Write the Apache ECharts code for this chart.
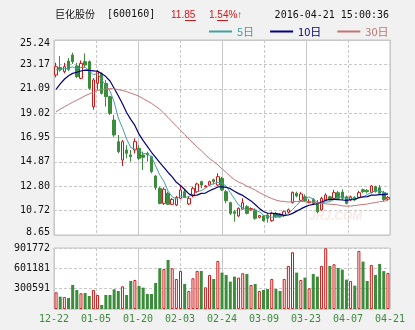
<!DOCTYPE html>
<html>
<head>
<meta charset="utf-8">
<script src="https://cdn.jsdelivr.net/npm/echarts@6/dist/echarts.min.js"></script>
<style>
html,body{margin:0;padding:0;background:#f1f1f1;}
#chart{width:415px;height:330px;}
</style>
</head>
<body>
<div id="chart"></div>
<script>
// Trading days shown on the daily K-line
const dates = [
  '12-22','12-23','12-24','12-25','12-28','12-29','12-30','12-31',
  '01-04','01-05','01-06','01-07','01-08','01-11','01-12','01-13','01-14','01-15',
  '01-18','01-19','01-20','01-21','01-22','01-25','01-26','01-27','01-28','01-29',
  '02-01','02-02','02-03','02-04','02-05','02-15','02-16','02-17','02-18','02-19',
  '02-22','02-23','02-24','02-25','02-26','02-29',
  '03-01','03-02','03-03','03-04','03-07','03-08','03-09','03-10','03-11',
  '03-14','03-15','03-16','03-17','03-18','03-21','03-22','03-23','03-24','03-25',
  '03-28','03-29','03-30','03-31','04-01','04-05','04-06','04-07','04-08',
  '04-11','04-12','04-13','04-14','04-15','04-18','04-19','04-20','04-21'
];

const openPx = [22.26,22.89,22.55,23.45,23.96,23.03,21.98,23.40,23.40,19.57,
  21.55,22.40,21.55,20.42,18.43,16.59,15.03,15.88,15.46,15.88,
  16.02,15.46,15.60,15.31,13.67,12.62,11.34,12.20,11.26,11.20,
  11.77,12.34,11.29,11.97,12.34,13.19,12.76,12.90,13.35,12.90,
  13.47,12.34,11.40,10.63,10.27,10.85,11.06,10.80,10.78,10.15,
  10.27,10.35,9.87,10.49,10.43,10.29,10.60,11.40,12.20,11.60,
  11.90,11.40,11.68,11.34,10.78,11.63,11.90,11.77,12.25,12.30,
  11.90,11.63,11.85,11.85,12.50,12.45,12.25,12.76,12.68,12.25,
  11.70];
const closePx = [22.97,22.69,22.97,22.74,23.40,22.12,23.25,23.11,21.13,21.84,
  22.55,20.70,20.42,19.00,17.16,15.74,16.59,15.60,15.31,16.59,
  15.17,15.26,15.46,14.04,12.70,11.34,12.54,11.26,11.68,11.85,
  12.48,11.85,11.77,12.62,12.99,12.90,12.82,13.19,13.19,13.61,
  12.48,11.57,10.49,10.49,10.92,11.40,10.49,10.90,10.07,10.30,
  9.87,10.07,10.49,10.20,10.20,10.63,10.80,12.28,11.97,12.14,
  11.57,11.49,11.34,10.63,11.77,12.05,11.63,12.25,11.77,11.77,
  11.34,11.90,11.63,12.25,12.34,12.34,12.82,12.34,12.20,11.67,
  11.85];
const lowPx = [22.06,22.55,22.40,22.60,23.20,22.00,21.90,22.90,21.00,19.30,
  21.00,20.60,19.57,18.86,17.00,15.60,14.52,15.17,14.89,15.60,
  15.03,14.18,14.89,13.90,12.48,11.26,11.20,11.20,11.20,11.10,
  11.68,11.80,11.20,11.85,12.20,12.62,12.70,12.85,12.95,12.82,
  12.40,11.34,10.35,9.78,10.20,10.78,10.40,10.70,9.95,10.07,
  9.78,9.70,9.78,10.10,10.12,10.20,10.50,11.34,11.85,11.50,
  11.50,11.35,11.20,10.49,10.70,11.55,11.55,11.70,11.70,11.63,
  11.25,11.55,11.55,11.80,12.20,12.20,12.20,12.25,12.05,11.50,
  11.60];
const highPx = [23.31,23.88,23.30,23.70,24.16,23.30,23.50,24.10,23.50,22.00,
  22.70,22.46,21.83,20.50,18.86,17.16,16.73,16.30,15.88,16.87,
  16.30,15.74,15.74,15.40,13.75,12.76,12.70,12.34,11.80,11.97,
  12.90,12.48,11.97,12.76,13.10,13.27,12.90,13.27,13.45,13.90,
  13.60,12.48,11.49,10.78,11.00,11.77,11.20,11.00,10.92,10.35,
  10.35,10.49,10.63,10.60,10.50,10.75,10.90,12.34,12.34,12.30,
  12.10,11.70,11.80,11.63,11.90,12.20,12.00,12.50,12.40,12.53,
  12.00,12.00,11.95,12.40,12.60,12.55,12.90,12.85,12.90,12.40,
  11.97];

const volume = [246800,182600,177700,162900,355400,281400,232000,236900,192500,281400,
  207300,59200,207300,207300,291200,266500,335600,207300,414600,429400,
  340600,315900,222100,222100,385000,602200,592300,725600,602200,444200,
  562700,370200,266500,454100,562700,562700,320800,503500,444200,710800,
  538000,503500,404800,478800,464000,528200,518300,355400,370200,266500,
  281400,296200,444200,296200,266500,444200,636700,839100,538000,429400,
  464000,306000,518300,478800,636700,898400,636700,661400,607100,582400,
  434400,414600,345500,858900,700900,414600,651600,503500,666400,560000,
  533100];

const ma5 = [22.70,22.75,22.80,22.85,22.95,22.78,22.90,22.92,22.60,22.29,
  22.38,21.87,21.33,20.90,19.97,18.60,17.78,16.82,16.08,15.97,
  15.85,15.59,15.56,15.30,14.53,13.76,13.22,12.38,11.90,11.73,
  11.96,11.82,11.93,12.11,12.34,12.43,12.62,12.90,13.02,13.14,
  13.06,12.81,12.27,11.73,11.19,10.97,10.76,10.84,10.76,10.63,
  10.33,10.24,10.16,10.19,10.17,10.32,10.46,10.82,11.18,11.56,
  11.75,11.89,11.70,11.43,11.36,11.46,11.48,11.67,11.89,11.89,
  11.75,11.81,11.68,11.78,11.89,12.09,12.28,12.42,12.41,12.27,
  12.18];
const ma10 = [21.04,21.50,21.90,22.20,22.40,22.50,22.60,22.68,22.65,22.62,
  22.58,22.38,22.13,21.75,21.13,20.49,19.82,19.07,18.49,17.97,
  17.23,16.68,16.19,15.69,15.25,14.81,14.40,13.97,13.60,13.13,
  12.86,12.52,12.15,12.01,12.04,12.19,12.22,12.42,12.57,12.74,
  12.74,12.71,12.59,12.37,12.17,12.02,11.78,11.55,11.24,10.91,
  10.65,10.50,10.50,10.47,10.40,10.32,10.35,10.49,10.68,10.87,
  11.04,11.18,11.26,11.31,11.46,11.60,11.69,11.68,11.66,11.63,
  11.60,11.65,11.67,11.84,11.89,11.92,12.04,12.05,12.09,12.08,
  12.13];
const ma30 = [19.14,19.35,19.55,19.75,19.95,20.12,20.30,20.50,20.65,20.80,
  20.95,21.02,21.07,21.10,21.08,21.02,20.95,20.85,20.72,20.60,
  20.45,20.25,20.05,19.85,19.60,19.35,19.00,18.65,18.28,17.91,
  17.56,17.20,16.82,16.48,16.14,15.83,15.48,15.15,14.89,14.61,
  14.28,13.97,13.64,13.36,13.15,13.01,12.80,12.65,12.47,12.26,
  12.08,11.91,11.75,11.62,11.53,11.51,11.45,11.49,11.50,11.51,
  11.48,11.46,11.45,11.38,11.34,11.31,11.27,11.24,11.20,11.13,
  11.10,11.11,11.15,11.20,11.25,11.28,11.36,11.41,11.48,11.53,
  11.59];

// Axis tick labels (evenly spaced divisions of each panel)
const priceTicks = ['8.65','10.72','12.80','14.87','16.95','19.02','21.09','23.17','25.24'];
const volumeTicks = ['','300591','601181','901772'];
const dateTicks = ['12-22','01-05','01-20','02-03','02-24','03-09','03-23','04-07','04-21'];
const priceMin = 8.65, priceMax = 25.24, volumeMax = 901772;

const RED = '#d01818';
const GREEN = '#3b8c3b';
const C5 = '#40a0a0';
const C10 = '#000080';
const C30 = '#c47474';
const GRIDC = '#c8c8c8';
const MONO = 'DejaVu Sans Mono';

const kData = dates.map((d, i) => [openPx[i], closePx[i], lowPx[i], highPx[i]]);
const volData = volume.map((v, i) => {
  const up = closePx[i] >= openPx[i];
  return {
    value: v,
    itemStyle: up
      ? { color: '#ffffff', borderColor: RED, borderWidth: 1 }
      : { color: GREEN, borderColor: GREEN, borderWidth: 0 }
  };
});

const dashed = { show: true, lineStyle: { color: GRIDC, type: [3, 2], width: 1 } };
const solid = { show: true, lineStyle: { color: GRIDC, type: 'solid', width: 1 } };
const bare = { axisLine: { show: false }, axisTick: { show: false } };

function guide(gridIndex, max, interval, split, extra) {
  return Object.assign({
    gridIndex, type: 'value', min: 0, max, interval,
    axisLabel: { show: false }, splitLine: split
  }, bare, extra || {});
}

const plain = { fontWeight: 'normal', padding: 0 };

const chart = echarts.init(document.getElementById('chart'), null, { renderer: 'canvas' });
chart.setOption({
  animation: false,
  backgroundColor: '#f1f1f1',
  title: [
    { text: '{a|巨化股份}{b|  [600160]}', left: 55, top: 9, padding: 0,
      textStyle: {
        fontSize: 10, fontWeight: 'normal', color: '#111',
        rich: {
          a: { fontSize: 10, color: '#111', fontFamily: 'Noto Sans CJK SC' },
          b: { fontSize: 10, color: '#111', fontFamily: MONO }
        }
      } },
    { text: '11.85', left: 171, top: 10, padding: 0,
      textStyle: { fontSize: 10, fontWeight: 'normal', color: RED, fontFamily: 'Liberation Sans' } },
    { text: '1.54%↑', left: 209, top: 10, padding: 0,
      textStyle: { fontSize: 10, fontWeight: 'normal', color: RED, fontFamily: 'Liberation Sans' } },
    { text: '2016-04-21 15:00:36', right: 26, top: 10, padding: 0,
      textStyle: { fontSize: 10, fontWeight: 'normal', color: '#111', fontFamily: MONO } }
  ],
  legend: {
    left: 209, top: 26, padding: 0, icon: 'rect', itemWidth: 23, itemHeight: 2, itemGap: 16,
    textStyle: { fontSize: 11, fontFamily: 'Noto Sans CJK SC' },
    data: [
      { name: '5日', textStyle: { color: C5 } },
      { name: '10日', textStyle: { color: C10 } },
      { name: '30日', textStyle: { color: C30 } }
    ]
  },
  grid: [
    { left: 54, top: 40, width: 336, height: 195, show: true, backgroundColor: '#fff', borderColor: '#c4c4c4', borderWidth: 1 },
    { left: 54, top: 248, width: 336, height: 61, show: true, backgroundColor: '#fff', borderColor: '#c4c4c4', borderWidth: 1 }
  ],
  xAxis: [
    { gridIndex: 0, type: 'category', data: dates, boundaryGap: true, show: false },
    guide(0, 8, 1, dashed, { position: 'bottom' }),
    guide(0, 8, 2, solid, { position: 'bottom' }),
    { gridIndex: 1, type: 'category', data: dates, boundaryGap: true, show: false },
    guide(1, 8, 1, dashed, {
      position: 'bottom',
      axisLabel: {
        show: true, margin: 5, showMinLabel: true, showMaxLabel: true,
        color: GREEN, fontSize: 10, fontFamily: MONO,
        formatter: v => dateTicks[Math.round(v)]
      }
    }),
    guide(1, 8, 2, solid, { position: 'bottom' })
  ],
  yAxis: [
    { gridIndex: 0, type: 'value', min: priceMin, max: priceMax, show: false },
    guide(0, 8, 1, dashed, {
      position: 'left',
      axisLabel: {
        show: true, margin: 4, showMinLabel: true, showMaxLabel: true,
        color: '#111', fontSize: 10, fontFamily: MONO,
        formatter: v => {
          const k = Math.round(v);
          if (k === 8) return '{t|' + priceTicks[k] + '}';
          if (k === 0) return '{b|' + priceTicks[k] + '}';
          return priceTicks[k];
        },
        rich: {
          t: { padding: [6, 0, 0, 0], color: '#111', fontSize: 10, fontFamily: MONO },
          b: { padding: [0, 0, 6, 0], color: '#111', fontSize: 10, fontFamily: MONO }
        }
      }
    }),
    guide(0, 8, 4, solid, { position: 'left' }),
    { gridIndex: 1, type: 'value', min: 0, max: volumeMax, show: false },
    guide(1, 3, 1, dashed, {
      position: 'left',
      axisLabel: {
        show: true, margin: 4, showMinLabel: true, showMaxLabel: true,
        color: '#111', fontSize: 10, fontFamily: MONO,
        formatter: v => volumeTicks[Math.round(v)]
      }
    })
  ],
  graphic: [
    // underlines beneath the decimal digits of price and change
    { type: 'line', silent: true, shape: { x1: 185, y1: 20.5, x2: 196, y2: 20.5 }, style: { stroke: RED, lineWidth: 1 } },
    { type: 'line', silent: true, shape: { x1: 217, y1: 20.5, x2: 228, y2: 20.5 }, style: { stroke: RED, lineWidth: 1 } },
    // site watermark
    { type: 'text', left: 309, top: 211, z: 1, silent: true,
      style: { text: 'JRJ.COM', fill: 'rgba(215,110,110,0.16)', font: 'bold italic 12px Liberation Sans' } }
  ],
  series: [
    {
      type: 'candlestick', name: 'K', xAxisIndex: 0, yAxisIndex: 0, data: kData,
      barWidth: 3,
      itemStyle: { color: '#ffffff', color0: GREEN, borderColor: RED, borderColor0: GREEN, borderWidth: 1 }
    },
    { type: 'line', name: '5日', xAxisIndex: 0, yAxisIndex: 0, data: ma5, showSymbol: false,
      lineStyle: { color: C5, width: 1 }, itemStyle: { color: C5 } },
    { type: 'line', name: '10日', xAxisIndex: 0, yAxisIndex: 0, data: ma10, showSymbol: false,
      lineStyle: { color: C10, width: 1.2 }, itemStyle: { color: C10 } },
    { type: 'line', name: '30日', xAxisIndex: 0, yAxisIndex: 0, data: ma30, showSymbol: false,
      lineStyle: { color: C30, width: 1 }, itemStyle: { color: C30 } },
    { type: 'bar', name: 'VOL', xAxisIndex: 3, yAxisIndex: 3, data: volData, barWidth: 3 }
  ]
});
</script>
</body>
</html>
